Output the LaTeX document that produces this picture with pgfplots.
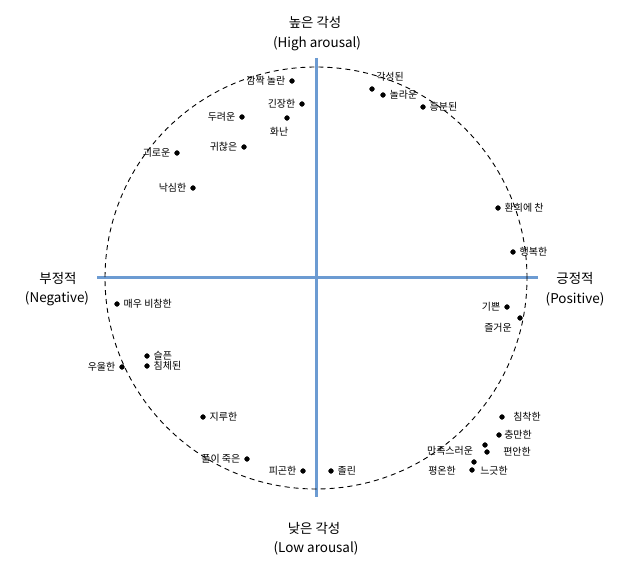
\documentclass[border=0pt]{standalone}
\usepackage{pgfplots}
\pgfplotsset{compat=1.18}
\usepackage{fontspec}
\setmainfont{Noto Sans CJK KR}
\definecolor{axisblue}{RGB}{108,155,210}
\newcommand{\lf}{\fontsize{10}{12}\selectfont}
\newcommand{\hf}{\fontsize{13.5}{16}\selectfont}
\begin{document}
\begin{tikzpicture}
\begin{axis}[
  scale only axis, width=627bp, height=568bp,
  xmin=-316, xmax=311, ymin=-290, ymax=278,
  hide axis, clip=false,
]
\path (rel axis cs:0,0) rectangle (rel axis cs:1,1);
% axes
\draw[axisblue, line width=3bp] (axis cs:-219,0) -- (axis cs:222,0);
\draw[axisblue, line width=3bp] (axis cs:0,220) -- (axis cs:0,-219);
% circle
\draw[black, line width=0.9bp, dash pattern=on 5bp off 4bp] (axis cs:0,0) circle[radius=211];
% dots
\addplot[only marks, mark=*, mark size=2.4bp, black] coordinates {
(-24,197) (-14,174) (-29,160) (-74,161) (-72,131) (-139,125) (-123,90)
(56,189) (67,183) (107,171) (182,70) (197,26) (191,-29) (204,-40)
(-199,-26) (-169,-78) (-169,-88) (-194,-89) (-113,-139) (-69,-181)
(-13,-193) (15,-193) (186,-139) (183,-157) (169,-167) (171,-174)
(158,-184) (156,-192)
};
% labels
\tikzset{lab/.style={font=\lf, inner sep=1.5bp}}
\node[lab, anchor=east] at (axis cs:-29,197) {깜짝 놀란};
\node[lab, anchor=east] at (axis cs:-19,174) {긴장한};
\node[lab] at (axis cs:-37,146) {화난};
\node[lab, anchor=east] at (axis cs:-79,161) {두려운};
\node[lab, anchor=east] at (axis cs:-77,131) {귀찮은};
\node[lab, anchor=east] at (axis cs:-144,125) {괴로운};
\node[lab, anchor=east] at (axis cs:-128,90) {낙심한};
\node[lab] at (axis cs:74,201) {각성된};
\node[lab, anchor=west] at (axis cs:72,183) {놀라운};
\node[lab, anchor=west] at (axis cs:112,171) {흥분된};
\node[lab, anchor=west] at (axis cs:187,70) {환희에 찬};
\node[lab, anchor=west] at (axis cs:202,26) {행복한};
\node[lab, anchor=east] at (axis cs:186,-29) {기쁜};
\node[lab] at (axis cs:182,-50) {즐거운};
\node[lab, anchor=west] at (axis cs:-194,-26) {매우 비참한};
\node[lab, anchor=west] at (axis cs:-164,-78) {슬픈};
\node[lab, anchor=west] at (axis cs:-164,-88) {침체된};
\node[lab, anchor=east] at (axis cs:-199,-89) {우울한};
\node[lab, anchor=west] at (axis cs:-108,-139) {지루한};
\node[lab, anchor=east] at (axis cs:-74,-181) {풀이 죽은};
\node[lab, anchor=east] at (axis cs:-18,-193) {피곤한};
\node[lab, anchor=west] at (axis cs:20,-193) {졸린};
\node[lab] at (axis cs:211,-139) {침착한};
\node[lab] at (axis cs:202,-157) {충만한};
\node[lab] at (axis cs:134,-173) {만족스러운};
\node[lab] at (axis cs:201,-174) {편안한};
\node[lab] at (axis cs:126,-193) {평온한};
\node[lab] at (axis cs:178,-193) {느긋한};
% headers
\tikzset{hd/.style={font=\hf, inner sep=0bp}}
\node[hd] at (axis cs:-1,256) {높은 각성};
\node[hd] at (axis cs:1,234) {(High arousal)};
\node[hd] at (axis cs:-2,-250) {낮은 각성};
\node[hd] at (axis cs:0,-270) {(Low arousal)};
\node[hd] at (axis cs:-258,0) {부정적};
\node[hd] at (axis cs:-259,-21) {(Negative)};
\node[hd] at (axis cs:259,0) {긍정적};
\node[hd] at (axis cs:259,-21) {(Positive)};
\end{axis}
\end{tikzpicture}
\end{document}
